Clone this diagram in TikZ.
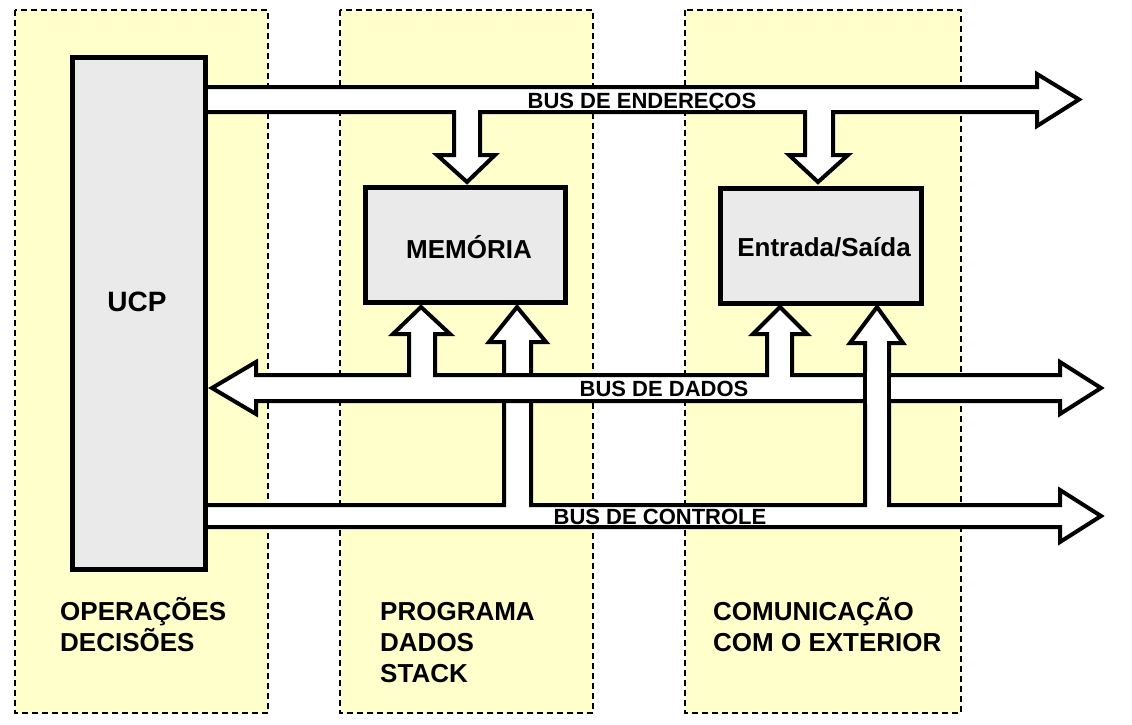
\documentclass[tikz,border=0pt]{standalone}
\usepackage{fontspec}
\setmainfont{Liberation Sans}
\definecolor{coly}{HTML}{FFFFCC}
\definecolor{boxg}{HTML}{EAEAEA}
\tikzset{
  column/.style={fill=coly, draw=black, line width=1.5pt, dash pattern=on 6pt off 4pt},
  busshape/.style={fill=white, draw=black, line width=4pt, line join=miter, miter limit=10},
  unit/.style={fill=boxg, draw=black, line width=5pt},
  buslabel/.style={inner sep=0pt, anchor=base, font=\bfseries\fontsize{22}{26}\selectfont},
  unitlabel/.style={inner sep=0pt, font=\bfseries\fontsize{26}{30}\selectfont},
  colnote/.style={inner sep=0pt, anchor=base west, font=\bfseries\fontsize{26}{30}\selectfont}
}
\begin{document}
\begin{tikzpicture}[x=1pt,y=-1pt]
\useasboundingbox (0,0) rectangle (1132,724);
% columns
\draw[column] (15,10) rectangle (268,713);
\draw[column] (340,10) rectangle (593,713);
\draw[column] (685,10) rectangle (961,713);
% control bus
\filldraw[busshape] (205,505) -- (504,505) -- (504,342) -- (489,342) -- (517,307) -- (546,342) -- (531,342) -- (531,505)
  -- (865,505) -- (865,343) -- (850,343) -- (877,307) -- (903,343) -- (889,343) -- (889,505)
  -- (1060,505) -- (1060,490) -- (1101,516) -- (1060,542) -- (1060,527) -- (205,527) -- cycle;
% data bus
\filldraw[busshape] (212,388) -- (256,362) -- (256,375) -- (409,375) -- (409,334) -- (393,334) -- (421,307) -- (450,334) -- (435,334) -- (435,375)
  -- (767,375) -- (767,334) -- (753,334) -- (780,307) -- (807,334) -- (792,334) -- (792,375)
  -- (1060,375) -- (1060,362) -- (1101,388) -- (1060,414) -- (1060,401) -- (256,401) -- (256,414) -- cycle;
% control branch to E/S passes over the data bus
\fill[white] (867,372) rectangle (887,404);
\draw[black, line width=4pt] (865,373) -- (865,403);
\draw[black, line width=4pt] (889,373) -- (889,403);
% address bus
\filldraw[busshape] (205,87) -- (1037,87) -- (1037,74) -- (1079,99.5) -- (1037,126) -- (1037,112)
  -- (833,112) -- (833,155) -- (848,155) -- (818,182) -- (789,155) -- (805,155) -- (805,112)
  -- (480,112) -- (480,155) -- (495,155) -- (467,182) -- (437,155) -- (454,155) -- (454,112)
  -- (205,112) -- cycle;
% units
\node[unit, minimum width=133pt, minimum height=512pt, inner sep=0pt] (ucp) at (138.5,313) {};
\node[unit, minimum width=200pt, minimum height=114.5pt, inner sep=0pt] (mem) at (465.5,244.75) {};
\node[unit, minimum width=201pt, minimum height=114.5pt, inner sep=0pt] (es) at (821,245.75) {};
\node[inner sep=0pt, font=\bfseries\fontsize{28}{32}\selectfont] (ucpt) at (137,302) {UCP};
\node[unitlabel] (memt) at (469,247) {MEMÓRIA};
\node[unitlabel] (est) at (824,247) {Entrada/Saída};
% bus labels
\node[buslabel] (la) at (642,108) {BUS DE ENDEREÇOS};
\node[buslabel] (ld) at (664,396.5) {BUS DE DADOS};
\node[buslabel] (lc) at (660,524.5) {BUS DE CONTROLE};
% column notes
\node[colnote] (n1a) at (60,620) {OPERAÇÕES};
\node[colnote] (n1b) at (60,651) {DECISÕES};
\node[colnote] (n2a) at (380,620) {PROGRAMA};
\node[colnote] (n2b) at (380,651) {DADOS};
\node[colnote] (n2c) at (380,682) {STACK};
\node[colnote] (n3a) at (713,620) {COMUNICAÇÃO};
\node[colnote] (n3b) at (713,651) {COM O EXTERIOR};
\end{tikzpicture}
\end{document}
